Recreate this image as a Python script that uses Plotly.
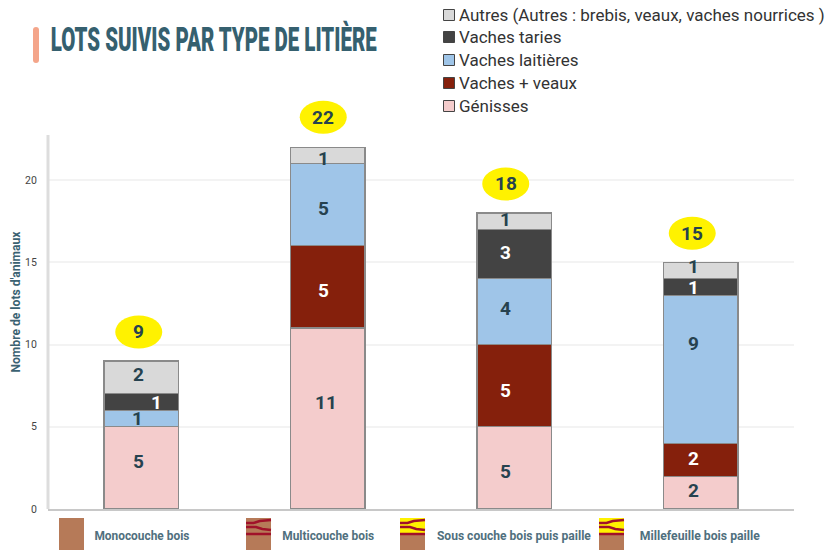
import plotly.graph_objects as go

W, H = 836, 551
L, R, T, B = 48, 42, 95, 42

litieres = ["Monocouche bois", "Multicouche bois", "Sous couche bois puis paille", "Millefeuille bois paille"]
genisses = [5, 11, 5, 2]
vaches_veaux = [0, 5, 5, 2]
vaches_laitieres = [1, 5, 4, 9]
vaches_taries = [1, 0, 3, 1]
autres = [2, 1, 1, 1]

series = [
    ("Génisses", genisses, "#f4cccc"),
    ("Vaches + veaux", vaches_veaux, "#85200c"),
    ("Vaches laitières", vaches_laitieres, "#9fc5e8"),
    ("Vaches taries", vaches_taries, "#434343"),
    ("Autres (Autres : brebis, veaux, vaches nourrices )", autres, "#d9d9d9"),
]
# Hand placement of the value labels in the original (pixels from the segment centre)
label_dx = [[-2.5, -1.5, -8.5, -7.5], [0, -4.5, -8.5, -7.5], [-3.5, -4.5, -8.5, -7.5], [15.5, 0, -8.5, -7.5], [-2.5, -4.5, -8.5, -7.5]]
label_dy = [[6, 16.5, -4, 2.5], [0, -4, -5, 1.5], [0, -4, 3, 26], [0, 0, 2, -1], [3, -3, 2, 4]]
badge_dx = [-2.5, -4.5, -8.5, -8.5]
badge_dy = [29, 30, 29, 29]

DARK = "#26424f"
TEAL = "#3b6272"
WOOD = "#b67a58"
STRAW = "#fff200"
RED = "#a0122a"


def px(x):
    return (x - L) / (W - L - R)


def py(y):
    return 1 - (y - T) / (H - T - B)


fig = go.Figure()
annotations = []
shapes = []

for name, values, color in series:
    fig.add_trace(go.Bar(
        x=litieres, y=values, name=name, width=0.4,
        marker=dict(color=color, line=dict(color="#8a8a8a", width=1.2)),
        showlegend=False, hoverinfo="x+y+name",
    ))

# Segment value labels and total badges
for i, lit in enumerate(litieres):
    base = 0
    for s, (name, values, color) in enumerate(series):
        v = values[i]
        if v:
            annotations.append(dict(
                x=lit, y=base + v / 2, xref="x", yref="y", text=str(v), showarrow=False,
                font=dict(family="Roboto", size=19, color="#ffffff" if color in ("#434343", "#85200c") else DARK, weight=700),
                xshift=label_dx[s][i], yshift=label_dy[s][i],
            ))
        base += v
    total = base
    dx, dy = badge_dx[i], badge_dy[i]
    shapes.append(dict(
        type="circle", xref="x", yref="y", xsizemode="pixel", ysizemode="pixel",
        xanchor=lit, yanchor=total, x0=dx - 23.5, x1=dx + 23.5, y0=dy - 16.5, y1=dy + 16.5,
        fillcolor=STRAW, line=dict(width=0), layer="above",
    ))
    annotations.append(dict(
        x=lit, y=total, xref="x", yref="y", text=str(total), showarrow=False, xshift=dx, yshift=dy,
        font=dict(family="Roboto", size=19, color=DARK, weight=700),
    ))

# Y axis line, stopping below the top of the enlarged plot area
shapes.append(dict(type="line", xref="paper", yref="y", x0=0, x1=0, y0=0, y1=22.74,
                   line=dict(color="#dddddd", width=3)))

# Title
annotations.append(dict(
    x=px(213), y=py(39), xref="paper", yref="paper", xanchor="center", yanchor="middle", showarrow=False,
    text="LOTS SUIVIS PAR TYPE DE LITIÈRE",
    font=dict(family="Roboto", size=33, color="#35606f", weight=900),
))
x0, x1, y0, y1 = px(33), px(39), py(27), py(63)
rx, ry = 3 / (W - L - R), 3 / (H - T - B)
shapes.append(dict(
    type="path", xref="paper", yref="paper", fillcolor="#f4a58a", line=dict(width=0),
    path=f"M{x0},{y0 - ry} Q{x0},{y0} {x0 + rx},{y0} L{x1 - rx},{y0} Q{x1},{y0} {x1},{y0 - ry} "
         f"L{x1},{y1 + ry} Q{x1},{y1} {x1 - rx},{y1} L{x0 + rx},{y1} Q{x0},{y1} {x0},{y1 + ry} Z",
))

# Top legend
legend_y = [15, 37, 60, 83, 106]
for (name, values, color), ly in zip(reversed(series), legend_y):
    shapes.append(dict(
        type="rect", xref="paper", yref="paper", x0=px(443.5), x1=px(454.5), y0=py(ly + 5.5), y1=py(ly - 5.5),
        fillcolor=color, line=dict(color="#444444", width=1),
    ))
    annotations.append(dict(
        x=px(457), y=py(ly), xref="paper", yref="paper", xanchor="left", yanchor="middle", showarrow=False,
        text=name, font=dict(family="Roboto", size=17, color="#333333"),
    ))

# Bottom litter legend
swatches = [(59, 84, 0), (246, 271, 1), (400, 425, 2), (599, 624, 2)]
label_centre = [141.5, 328, 514, 700]
for (sx0, sx1, kind), lx, lit in zip(swatches, label_centre, litieres):
    ytop, ybot = 518, 550
    shapes.append(dict(type="rect", xref="paper", yref="paper", x0=px(sx0), x1=px(sx1), y0=py(ybot), y1=py(ytop),
                       fillcolor=WOOD, line=dict(width=0)))
    if kind == 2:
        shapes.append(dict(type="rect", xref="paper", yref="paper", x0=px(sx0), x1=px(sx1), y0=py(534), y1=py(ytop),
                           fillcolor=STRAW, line=dict(width=0)))
    if kind >= 1:
        for pts in ([(0, 523), (.3, 523), (.55, 521), (1, 520)],
                    [(0, 527), (.4, 527), (.65, 529), (1, 530)],
                    [(0, 534), (1, 534)]):
            d = "M" + " L".join(f"{px(sx0 + a * (sx1 - sx0))},{py(b)}" for a, b in pts)
            shapes.append(dict(type="path", xref="paper", yref="paper", path=d, line=dict(color=RED, width=2.5)))
    annotations.append(dict(
        x=px(lx), y=py(535), xref="paper", yref="paper", xanchor="center", yanchor="middle", showarrow=False,
        text=lit, font=dict(family="Roboto", size=13, color="#50707e", weight=700),
    ))

fig.update_layout(
    width=W, height=H, barmode="stack", bargap=0.6,
    margin=dict(l=L, r=R, t=T, b=B, autoexpand=False),
    paper_bgcolor="#ffffff", plot_bgcolor="#ffffff",
    annotations=annotations, shapes=shapes,
    xaxis=dict(showticklabels=False, showgrid=False, ticks="", showline=True, linecolor="#c8c8c8", linewidth=2,
               zeroline=False, categoryorder="array", categoryarray=litieres),
    yaxis=dict(range=[0, 25.17], tickvals=[0, 5, 10, 15, 20], gridcolor="#f3f3f3", gridwidth=2,
               showline=False, zeroline=False, ticks="outside", ticklen=8, tickcolor="#ffffff",
               tickfont=dict(family="Roboto", size=10.5, color="#444444"),
               title=dict(text="Nombre de lots d'animaux", standoff=1,
                          font=dict(family="Roboto", size=12, color=TEAL, weight=700))),
)

post = """
document.body.style.margin = '0';
var narrow = {'LOTS SUIVIS PAR TYPE DE LITIÈRE': 326, 'Monocouche bois': 95, 'Multicouche bois': 92,
              'Sous couche bois puis paille': 154, 'Millefeuille bois paille': 120, "Nombre de lots d'animaux": 141};
document.querySelectorAll('svg text').forEach(function (t) {
  var w = narrow[t.textContent];
  if (w) { t.setAttribute('textLength', w); t.setAttribute('lengthAdjust', 'spacingAndGlyphs'); }
});
"""
fig.write_html("out.html", post_script=post, config={"displayModeBar": False})
